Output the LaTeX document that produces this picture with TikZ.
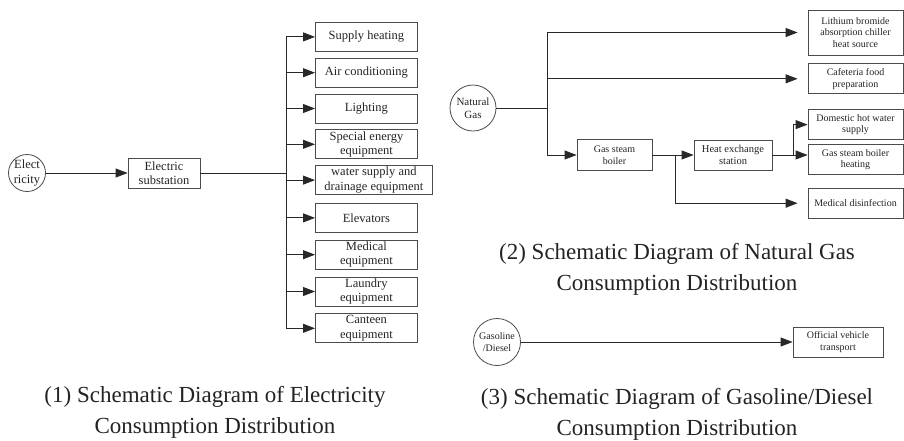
\documentclass[tikz,border=0pt]{standalone}
\usepackage{fontspec}
\setmainfont{Liberation Serif}
\usetikzlibrary{arrows.meta, positioning, calc}
\definecolor{lineColor}{RGB}{40,40,40}
\definecolor{boxBorder}{RGB}{75,75,75}
\definecolor{textColor}{RGB}{35,35,35}

\begin{document}
\begin{tikzpicture}[
    x=1pt, y=-1pt,
    node distance=6pt,
    every node/.style={text=textColor},
    elecfont/.style={font=\fontsize{12.5}{14.5}\selectfont},
    gasfont/.style={font=\fontsize{10}{11.5}\selectfont},
    box/.style={
        draw=boxBorder, line width=0.8pt, align=center, inner sep=1pt
    },
    usebox/.style={box, elecfont, minimum width=102pt, minimum height=29pt},
    gasbox/.style={box, gasfont, minimum width=95pt, minimum height=30pt},
    source/.style={
        circle, draw=boxBorder, line width=0.8pt, align=center, inner sep=0pt
    },
    caption/.style={align=center, font=\fontsize{23}{31}\selectfont},
    line/.style={draw=lineColor, line width=0.9pt},
    arrow/.style={line, -{Triangle[length=12pt, width=9pt, fill=lineColor]}},
    gap/.style={shorten >=10pt}
]
    \useasboundingbox (0,0) rectangle (904,440);

    % (1) electricity
    \node[source, elecfont, minimum size=37pt] (elec) at (27,173) {Elect\\ricity};
    \node[box, elecfont, minimum width=72pt, minimum height=30pt] (sub) at (164,173)
        {Electric\\substation};

    \node[usebox, anchor=north west] (heat) at (315,22) {Supply heating};
    \node[usebox, below=of heat.south west, anchor=north west] (air) {Air conditioning};
    \node[usebox, below=of air.south west, anchor=north west] (light) {Lighting};
    \node[usebox, below=of light.south west, anchor=north west] (special)
        {Special energy\\equipment};
    \node[usebox, minimum width=117pt, below=of special.south west, anchor=north west] (water)
        {water supply and\\drainage equipment};
    \node[usebox, below=8pt of water.south west, anchor=north west] (elev) {Elevators};
    \node[usebox, below=7pt of elev.south west, anchor=north west] (medical)
        {Medical\\equipment};
    \node[usebox, below=7pt of medical.south west, anchor=north west] (laundry)
        {Laundry\\equipment};
    \node[usebox, below=7pt of laundry.south west, anchor=north west] (canteen)
        {Canteen\\equipment};

    \coordinate (ebus) at (286,173);

    \draw[arrow] (elec) -- (sub);
    \draw[line] (sub) -- (ebus);
    \draw[line] (heat.west -| ebus) -- (canteen.west -| ebus);
    \draw[arrow] (heat.west -| ebus) -- (heat.west);
    \draw[arrow] (air.west -| ebus) -- (air.west);
    \draw[arrow] (light.west -| ebus) -- (light.west);
    \draw[arrow] (special.west -| ebus) -- (special.west);
    \draw[arrow] (water.west -| ebus) -- (water.west);
    \draw[arrow] (elev.west -| ebus) -- (elev.west);
    \draw[arrow] (medical.west -| ebus) -- (medical.west);
    \draw[arrow] (laundry.west -| ebus) -- (laundry.west);
    \draw[arrow] (canteen.west -| ebus) -- (canteen.west);

    \node[caption] (cap1) at (215,412)
        {(1) Schematic Diagram of Electricity\\Consumption Distribution};

    % (2) natural gas
    \node[source, font=\fontsize{11}{13.5}\selectfont, minimum size=46pt] (gas) at (473,108)
        {Natural\\Gas};
    \coordinate (gbus) at (547,108);

    \node[gasbox, minimum height=45pt] (libr) at (855.5,32.5)
        {Lithium bromide\\absorption chiller\\heat source};
    \node[gasbox, below=8pt of libr] (cafe) {Cafeteria food\\preparation};
    \node[gasbox, below=15pt of cafe] (dhw) {Domestic hot water\\supply};
    \node[gasbox, below=4pt of dhw] (gsbh) {Gas steam boiler\\heating};
    \node[gasbox, below=13pt of gsbh] (meddis) {Medical disinfection};

    \node[gasbox, minimum width=75pt, minimum height=31pt] (gsb) at (614.5,155)
        {Gas steam\\boiler};
    \node[gasbox, font=\fontsize{10.5}{12.5}\selectfont, minimum width=78pt] (hex) at (733,155)
        {Heat exchange\\station};

    \draw[line] (gas) -- (gbus);
    \draw[line] (libr.west -| gbus) -- (gsb.west -| gbus);
    \draw[arrow, gap] (libr.west -| gbus) -- (libr.west);
    \draw[arrow, gap] (cafe.west -| gbus) -- (cafe.west);
    \draw[arrow] (gsb.west -| gbus) -- (gsb.west);
    \draw[arrow] (gsb) -- (hex);
    \draw[arrow, gap] (gsb.east) -- ++(23pt,0) |- (meddis.west);
    \draw[arrow] (hex.east) -- ++(21pt,0) |- (dhw.west);
    \draw[arrow] (hex.east) -- (hex.east -| gsbh.west);

    \node[caption] (cap2) at (677,269)
        {(2) Schematic Diagram of Natural Gas\\Consumption Distribution};

    % (3) gasoline / diesel
    \node[source, gasfont, minimum size=47pt] (fuel) at (497,342) {Gasoline\\/Diesel};
    \node[gasbox, minimum width=90pt] (vehicle) at (838,342) {Official vehicle\\transport};
    \draw[arrow] (fuel) -- (vehicle);

    \node[caption] (cap3) at (677,414)
        {(3) Schematic Diagram of Gasoline/Diesel\\Consumption Distribution};
\end{tikzpicture}
\end{document}
